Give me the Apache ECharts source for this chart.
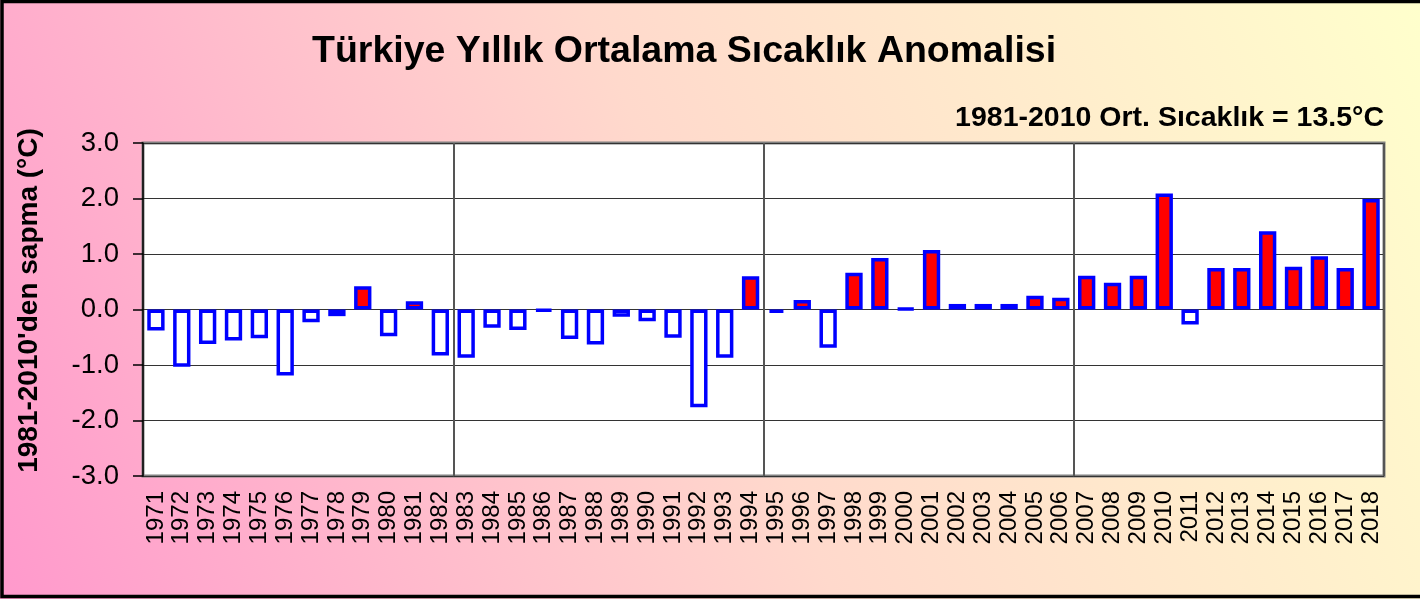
<!DOCTYPE html>
<html>
<head>
<meta charset="utf-8">
<script src="https://cdn.jsdelivr.net/npm/echarts@6/dist/echarts.min.js"></script>
<style>
  html, body { margin: 0; padding: 0; }
  #chart { width: 1420px; height: 599px; }
</style>
</head>
<body>
<div id="chart"></div>
<script>
'use strict';

// categories
var years = [
  '1971', '1972', '1973', '1974', '1975', '1976', '1977', '1978', '1979', '1980',
  '1981', '1982', '1983', '1984', '1985', '1986', '1987', '1988', '1989', '1990',
  '1991', '1992', '1993', '1994', '1995', '1996', '1997', '1998', '1999', '2000',
  '2001', '2002', '2003', '2004', '2005', '2006', '2007', '2008', '2009', '2010',
  '2011', '2012', '2013', '2014', '2015', '2016', '2017', '2018'
];

// anomaly vs 1981-2010 mean (°C)
var anomaly = [
  -0.38, -1.03, -0.62, -0.56, -0.52, -1.19, -0.23, -0.12, 0.42, -0.48,
  0.15, -0.83, -0.87, -0.33, -0.37, -0.03, -0.53, -0.63, -0.13, -0.21,
  -0.51, -1.76, -0.87, 0.60, -0.06, 0.17, -0.69, 0.66, 0.93, 0.02,
  1.07, 0.10, 0.10, 0.10, 0.25, 0.21, 0.61, 0.48, 0.61, 2.09,
  -0.27, 0.75, 0.75, 1.41, 0.77, 0.96, 0.75, 1.99
];

var yTicks = ['-3.0', '-2.0', '-1.0', '0.0', '1.0', '2.0', '3.0'];

var titleText = 'Türkiye Yıllık Ortalama Sıcaklık Anomalisi';
var subText = '1981-2010 Ort. Sıcaklık = 13.5°C';
var yName = "1981-2010'den sapma (°C)";

var font = "'Liberation Sans', Arial, sans-serif";

var chart = echarts.init(document.getElementById('chart'));

var option = {
  animation: false,
  graphic: [
    {
      type: 'rect',
      z: -10,
      silent: true,
      shape: { x: 0, y: 0, width: 1420, height: 599 },
      style: {
        fill: {
          type: 'linear', x: 0, y: 1, x2: 1, y2: 0,
          colorStops: [
            { offset: 0, color: '#ff99cc' },
            { offset: 0.5, color: '#ffd9cc' },
            { offset: 1, color: '#ffffcc' }
          ]
        }
      }
    },
    {
      type: 'rect',
      z: 100,
      silent: true,
      shape: { x: 2, y: 1.5, width: 1440, height: 595 },
      style: { fill: 'none', stroke: '#000', lineWidth: 3.5 }
    }
  ],
  title: [
    {
      text: titleText,
      left: 307,
      top: 28,
      textStyle: { fontFamily: font, fontSize: 37.5, fontWeight: 'bold', color: '#000' }
    },
    {
      text: subText,
      right: 31,
      top: 99,
      textStyle: { fontFamily: font, fontSize: 28.5, fontWeight: 'bold', color: '#000' }
    }
  ],
  grid: {
    left: 143,
    right: 36,
    top: 143,
    bottom: 123,
    show: true,
    backgroundColor: '#fff',
    borderColor: '#808080',
    borderWidth: 3
  },
  xAxis: {
    type: 'category',
    data: years,
    position: 'bottom',
    axisLine: { show: false, onZero: false },
    axisTick: { show: false },
    axisLabel: {
      interval: 0,
      rotate: 90,
      margin: 15,
      fontFamily: font,
      fontSize: 24,
      color: '#000'
    },
    splitLine: {
      show: true,
      interval: function (i) { return i > 0 && i % 12 === 0; },
      lineStyle: { color: '#555', width: 2 }
    }
  },
  yAxis: {
    type: 'value',
    min: -3,
    max: 3,
    interval: 1,
    name: yName,
    nameLocation: 'middle',
    nameGap: 100,
    nameTextStyle: { fontFamily: font, fontSize: 28, fontWeight: 'bold', color: '#000', padding: [0, 0, 0, 18] },
    axisLine: { show: true, lineStyle: { color: '#000', width: 1.5 } },
    axisTick: { show: true, inside: false, length: 10, lineStyle: { color: '#000', width: 1.5 } },
    axisLabel: {
      margin: 24,
      fontFamily: font,
      fontSize: 27.5,
      color: '#000',
      formatter: function (v) { return yTicks[Math.round(v) + 3]; }
    },
    splitLine: { show: true, lineStyle: { color: '#333', width: 1 } }
  },
  series: [
    {
      type: 'bar',
      data: anomaly,
      barCategoryGap: '33%',
      itemStyle: {
        color: function (p) { return p.value >= 0 ? '#ff0000' : '#ffffff'; },
        borderColor: '#0000ff',
        borderWidth: 3.5
      }
    }
  ]
};

chart.setOption(option);
</script>
</body>
</html>
